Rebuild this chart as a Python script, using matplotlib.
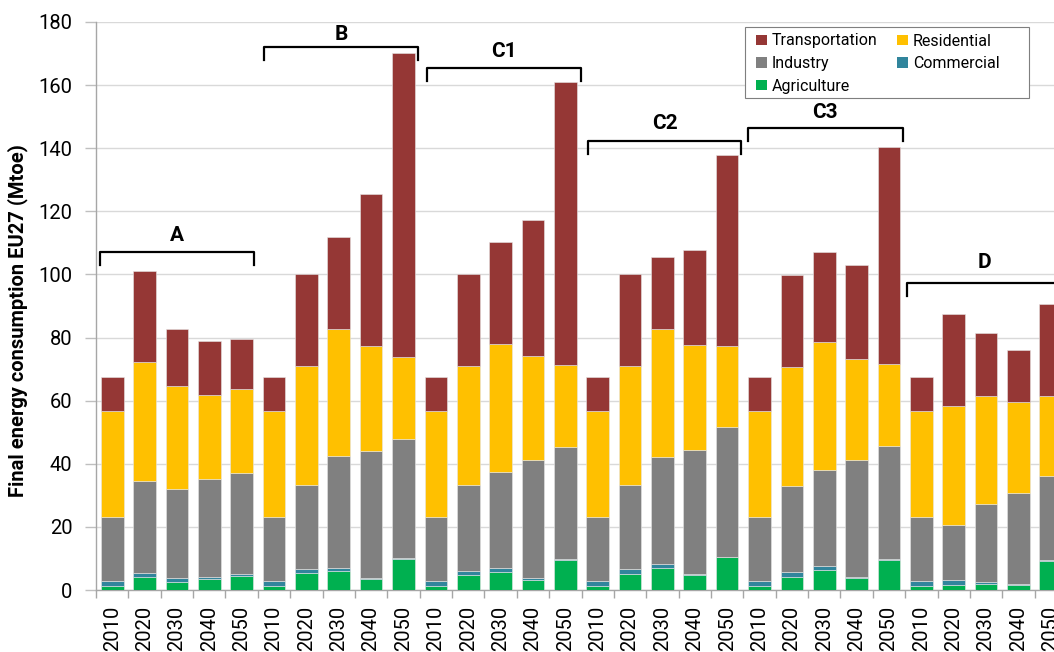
import matplotlib
matplotlib.use('Agg')
import matplotlib.pyplot as plt
import numpy as np
from matplotlib.patches import Patch, Rectangle

plt.rcParams['font.family'] = ['Roboto', 'DejaVu Sans']

# --- data (Mtoe), 6 scenarios x 5 years ---
years = ['2010', '2020', '2030', '2040', '2050'] * 6

agriculture = [1.3, 4.1, 2.6, 3.6, 4.4,
               1.3, 5.3, 5.9, 3.4, 9.8,
               1.3, 4.6, 5.8, 3.3, 9.6,
               1.3, 5.1, 7.0, 4.6, 10.4,
               1.3, 4.2, 6.3, 3.7, 9.5,
               1.3, 1.6, 1.8, 1.5, 9.3]
commercial = [1.6, 1.3, 1.1, 0.5, 0.6,
              1.6, 1.4, 1.2, 0.4, 0.2,
              1.6, 1.4, 1.2, 0.5, 0.2,
              1.6, 1.4, 1.1, 0.4, 0.2,
              1.6, 1.5, 1.2, 0.5, 0.2,
              1.6, 1.5, 0.8, 0.4, 0.2]
industry = [20.2, 29.2, 28.2, 31.1, 32.1,
            20.2, 26.5, 35.3, 40.4, 37.8,
            20.2, 27.2, 30.5, 37.4, 35.5,
            20.2, 26.7, 34.2, 39.4, 40.9,
            20.2, 27.3, 30.4, 37.1, 35.9,
            20.2, 17.6, 24.5, 28.7, 26.5]
residential = [33.6, 37.6, 32.9, 26.5, 26.5,
               33.6, 37.8, 40.4, 33.0, 25.9,
               33.6, 37.9, 40.6, 33.1, 26.0,
               33.6, 37.8, 40.5, 33.2, 25.9,
               33.6, 37.7, 40.6, 32.0, 25.9,
               33.6, 37.6, 34.3, 29.0, 25.5]
transportation = [10.8, 28.9, 17.8, 17.2, 15.8,
                  10.8, 29.1, 29.1, 48.3, 96.5,
                  10.8, 29.0, 32.2, 42.9, 89.7,
                  10.8, 29.1, 22.7, 30.1, 60.4,
                  10.8, 29.0, 28.6, 29.7, 68.9,
                  10.8, 29.2, 19.9, 16.6, 29.1]

# scenario groups: label, first bar, last bar, bracket height
group_labels = ['A', 'B', 'C1', 'C2', 'C3', 'D']
group_start = [-0.38, 4.70, 9.73, 14.70, 19.64, 24.55]
group_end = [4.38, 9.45, 14.48, 19.43, 24.43, 29.35]
group_height = [107.0, 172.1, 165.4, 142.3, 146.4, 97.3]
label_offset = [5.2, 3.9, 5.3, 5.4, 4.8, 6.6]

series = [
    ('Agriculture', agriculture, '#00B050'),
    ('Commercial', commercial, '#31859C'),
    ('Industry', industry, '#808080'),
    ('Residential', residential, '#FFC000'),
    ('Transportation', transportation, '#953735'),
]

W, H = 1054, 652
fig = plt.figure(figsize=(W / 100, H / 100), dpi=100)
# axis runs past the right edge like in the original (cropped) chart
ax = fig.add_axes([96 / W, 62 / H, 971 / W, 568 / H])

x = np.arange(len(years))
bottom = np.zeros(len(years))
colors = {}
for name, vals, col in series:
    vals = np.array(vals)
    ax.bar(x, vals, width=0.70, bottom=bottom, color=col,
           edgecolor='#e6e6e6', linewidth=0.4, zorder=3)
    bottom += vals
    colors[name] = col

ax.set_xlim(-0.5, len(years) - 0.5)
ax.set_ylim(0, 180)
ax.set_yticks(range(0, 181, 20))
ax.tick_params(axis='y', labelsize=14.5, length=8, color='#bfbfbf',
               width=1, pad=9)
ax.grid(axis='y', color='#d9d9d9', linewidth=1, zorder=0)

ax.set_xticks(x)
ax.set_xticklabels(years, rotation=90, fontsize=14.5)
ax.tick_params(axis='x', which='major', length=0, pad=11)
ax.set_xticks(np.arange(-0.5, len(years), 1), minor=True)
ax.tick_params(axis='x', which='minor', length=6, color='#a6a6a6', width=1)

for s in ['top', 'right']:
    ax.spines[s].set_visible(False)
for s in ['left', 'bottom']:
    ax.spines[s].set_color('#a6a6a6')
    ax.spines[s].set_linewidth(1)

fig.text(18 / W, 1 - 320.5 / H, 'Final energy consumption EU27 (Mtoe)',
         rotation=90, ha='center', va='center', fontsize=14.5,
         fontweight='bold')

# brackets above scenario groups
drop = 4.0
for lab, x0, x1, h, off in zip(group_labels, group_start, group_end,
                               group_height, label_offset):
    ax.plot([x0, x0, x1, x1], [h - drop, h, h, h - drop], color='black',
            linewidth=1.6, solid_joinstyle='round', clip_on=False, zorder=5)
    ax.text((x0 + x1) / 2, h + off, lab, ha='center', va='center',
            fontsize=15, fontweight='bold', zorder=5)

# legend box (wider on the right, as in the original)
fig.patches.append(Rectangle((745 / W, 1 - 98 / H), 284 / W, 71 / H,
                             transform=fig.transFigure, facecolor='white',
                             edgecolor='#7f7f7f', linewidth=0.8, zorder=6))
order = ['Transportation', 'Industry', 'Agriculture', 'Residential', 'Commercial']
handles = [Patch(facecolor=colors[n], label=n) for n in order]
leg = fig.legend(handles=handles, ncol=2, loc='upper left',
                 bbox_to_anchor=(756 / W, 1 - 33.5 / H), borderaxespad=0,
                 borderpad=0, frameon=False, fontsize=11.5,
                 handlelength=0.67, handleheight=0.65, handletextpad=0.3,
                 columnspacing=1.25, labelspacing=0.47)
leg.set_zorder(7)

plt.savefig('out.png', dpi=100)
plt.close()
